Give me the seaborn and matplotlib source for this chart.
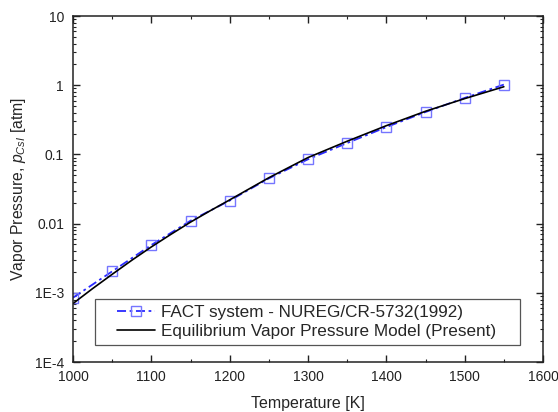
import numpy as np
import pandas as pd
import matplotlib
matplotlib.use("Agg")
import matplotlib.pyplot as plt
from matplotlib.patches import Rectangle
import seaborn as sns
from matplotlib.ticker import LogLocator, FixedLocator, NullFormatter, FixedFormatter

# Data
fact_T = [1000, 1050, 1100, 1150, 1200, 1250, 1300, 1350, 1400, 1450, 1500, 1550]
fact_p = [8.5e-4, 2.04e-3, 4.9e-3, 0.011, 0.0215, 0.045, 0.085, 0.146, 0.248, 0.41, 0.655, 1.02]
model_T = [1000, 1025, 1050, 1075, 1100, 1125, 1150, 1175, 1200, 1250, 1300, 1350, 1400, 1450, 1500, 1550]
model_p = [7.0e-4, 1.15e-3, 1.85e-3, 2.95e-3, 4.6e-3, 7.0e-3, 0.0105, 0.0153, 0.022, 0.046, 0.09, 0.155, 0.26, 0.42, 0.64, 0.95]
x_ticks = [1000, 1100, 1200, 1300, 1400, 1500, 1600]
y_ticks = [1e-4, 1e-3, 0.01, 0.1, 1, 10]
y_labels = ["1E-4", "1E-3", "0.01", "0.1", "1", "10"]

sns.set_style("ticks")
plt.rcParams['font.family'] = ['Liberation Sans', 'DejaVu Sans']
plt.rcParams['mathtext.fontset'] = 'custom'
plt.rcParams['mathtext.it'] = 'Liberation Sans:italic'
plt.rcParams['mathtext.rm'] = 'Liberation Sans'

fig = plt.figure(figsize=(5.58, 4.12), dpi=100)
ax = fig.add_axes([73/558, 1 - 362/412, 470/558, 346/412])

df_f = pd.DataFrame({"T": fact_T, "p": fact_p})
df_m = pd.DataFrame({"T": model_T, "p": model_p})

sns.lineplot(data=df_f, x="T", y="p", ax=ax, color="#2a2aff", linestyle=(0, (5, 2, 1.5, 2)),
             lw=1.3, marker="s", markersize=6.5, markerfacecolor="none",
             markeredgecolor="#7575ff", markeredgewidth=1.0,
             label="FACT system - NUREG/CR-5732(1992)")
sns.lineplot(data=df_m, x="T", y="p", ax=ax, color="black", lw=1.2,
             label="Equilibrium Vapor Pressure Model (Present)")

ax.set_yscale("log")
ax.set_xlim(1000, 1600)
ax.set_ylim(1e-4, 10)
ax.xaxis.set_major_locator(FixedLocator(x_ticks))
ax.xaxis.set_minor_locator(FixedLocator([1050, 1150, 1250, 1350, 1450, 1550]))
ax.yaxis.set_major_locator(FixedLocator(y_ticks))
ax.yaxis.set_major_formatter(FixedFormatter(y_labels))
ax.yaxis.set_minor_locator(LogLocator(base=10, subs=np.arange(2, 10), numticks=20))
ax.yaxis.set_minor_formatter(NullFormatter())

ax.tick_params(which="both", direction="in", top=True, right=True, labelsize=10, colors="#222222")
ax.tick_params(which="major", length=5, width=1)
ax.tick_params(which="minor", length=2.5, width=0.8)
ax.tick_params(axis="y", which="major", pad=6.5)
ax.tick_params(axis="x", which="major", pad=5.5)
for s in ax.spines.values():
    s.set_linewidth(1.1)
    s.set_color("#222222")

ax.set_xlabel("Temperature [K]", fontsize=11.5, labelpad=9)
ax.set_ylabel(r"Vapor Pressure, $p_{CsI}$ [atm]", fontsize=11.3, labelpad=5)

# legend frame
ax.add_patch(Rectangle((0.0468, 0.049), 0.951 - 0.0468, 0.182 - 0.049, transform=ax.transAxes,
                       facecolor="white", edgecolor="#555555", lw=0.9, zorder=4))
leg = ax.legend(loc="center left", bbox_to_anchor=((117 - 73) / 470, 0.1155),
                fontsize=12.3, frameon=False, handlelength=2.2, handletextpad=0.4,
                borderaxespad=0, borderpad=0, labelspacing=0.25)
leg.set_zorder(5)

fig.savefig("out.png", dpi=100)
